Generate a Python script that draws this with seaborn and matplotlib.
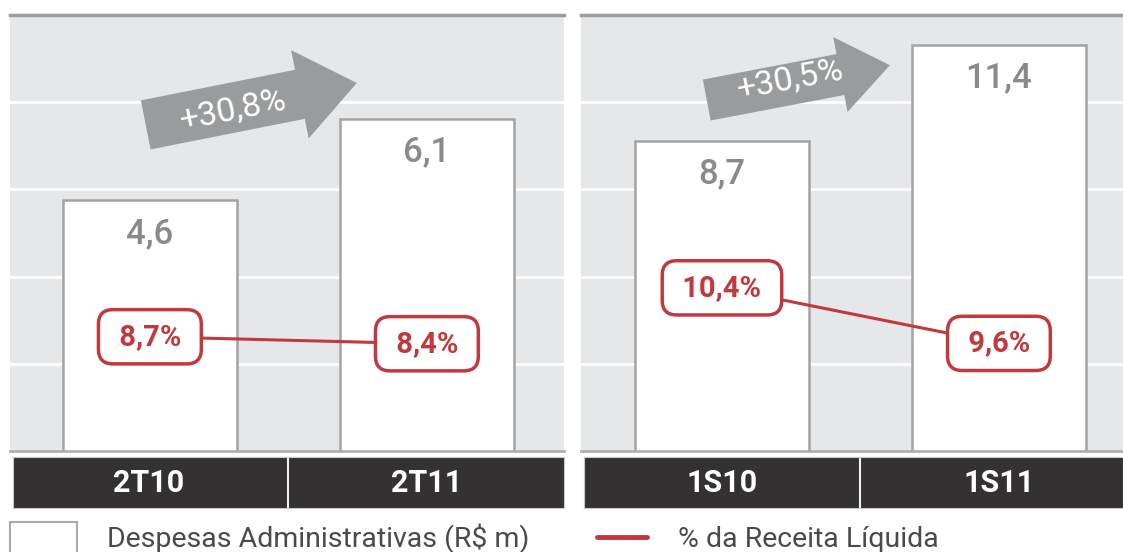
import numpy as np
import pandas as pd
import matplotlib
matplotlib.use('Agg')
import matplotlib.pyplot as plt
import seaborn as sns
from matplotlib.patches import Rectangle
from matplotlib.lines import Line2D

# values
quarters = ['2T10', '2T11']
quarter_expenses = [4.6, 6.1]      # Despesas Administrativas (R$ m)
quarter_pct = [8.7, 8.4]           # % da Receita Liquida
quarter_growth = '+30,8%'

semesters = ['1S10', '1S11']
semester_expenses = [8.7, 11.4]
semester_pct = [10.4, 9.6]
semester_growth = '+30,5%'

legend_bar = 'Despesas Administrativas (R$ m)'
legend_line = '% da Receita Líquida'

sns.set_theme(style='white')
plt.rcParams['font.family'] = ['Roboto', 'DejaVu Sans']

RED = '#c1393f'
BG = '#e6e7e8'
ARROW = '#9a9b9c'
BAND = '#333132'

W, H = 1123, 552
fig = plt.figure(figsize=(W / 100, H / 100), dpi=100)


def rect(x0, y0, x1, y1):
    # pixel box measured from the top-left -> figure fraction
    return [x0 / W, 1 - y1 / H, (x1 - x0) / W, (y1 - y0) / H]


def fmt(v):
    return f'{v:.1f}'.replace('.', ',')


def panel(ax_rect, band_rect, cats, vals, pct, ytop, pct_lim, xlim, band_xlim,
          growth, tail, tip, mscale, hw, hl, text_xy):
    ax = fig.add_axes(ax_rect)
    ax.set_facecolor(BG)
    df = pd.DataFrame({'cat': cats, 'val': vals})
    sns.barplot(data=df, x='cat', y='val', ax=ax, color='white', saturation=1,
                edgecolor='#a3a3a3', linewidth=1.8, width=0.63, zorder=3)
    ax.set_ylim(0, ytop)
    ax.set_yticks(np.linspace(0, ytop, 6))
    ax.grid(axis='y', color='white', lw=2)
    ax.set_axisbelow(True)
    ax.tick_params(labelleft=False, labelbottom=False, length=0)
    ax.set_xlabel('')
    ax.set_ylabel('')
    for s in ['left', 'right']:
        ax.spines[s].set_visible(False)
    ax.spines['top'].set(color='#9d9d9d', lw=2.5)
    ax.spines['bottom'].set(color='#b0b0b0', lw=2)

    for i, v in enumerate(vals):
        ax.annotate(fmt(v), (i, v), xytext=(0, -24), textcoords='offset points',
                    ha='center', va='center', fontsize=25, fontweight='medium',
                    color='#8a8a8a', zorder=4)

    # growth arrow
    ax.annotate('', xy=tip, xytext=tail, xycoords='axes fraction',
                arrowprops=dict(arrowstyle=f'simple,head_length={hl},head_width={hw},tail_width=1',
                                mutation_scale=mscale, fc=ARROW, ec='none',
                                shrinkA=0, shrinkB=0), zorder=4)
    wpx = ax_rect[2] * W
    hpx = ax_rect[3] * H
    ang = np.degrees(np.arctan2((tip[1] - tail[1]) * hpx, (tip[0] - tail[0]) * wpx))
    ax.text(text_xy[0], text_xy[1], growth, transform=ax.transAxes, rotation=ang,
            rotation_mode='anchor', ha='center', va='center', color='white',
            fontsize=24.5, zorder=5)

    # % of net revenue line
    ax2 = ax.twinx()
    xs = np.arange(len(cats))
    sns.lineplot(x=xs, y=pct, ax=ax2, color=RED, lw=2.2, zorder=3)
    for i, p in enumerate(pct):
        ax2.text(i, p, ' ' + fmt(p) + '% ', ha='center', va='center', fontsize=21,
                 fontweight='bold', color=RED, zorder=6,
                 bbox=dict(boxstyle='round,pad=0.45,rounding_size=0.5',
                           fc='white', ec=RED, lw=2.5))
    ax2.set_ylim(pct_lim)
    ax2.set_axis_off()
    ax.set_xlim(xlim)

    # category band
    bx = fig.add_axes(band_rect)
    bx.set_facecolor(BAND)
    bx.set_xlim(band_xlim)
    bx.set_ylim(0, 1)
    bx.set_xticks([])
    bx.set_yticks([])
    for s in bx.spines.values():
        s.set(color='#c8c8c8', lw=0.8)
    for i in range(len(cats) - 1):
        bx.axvline(i + 0.5, color='#f2f2f2', lw=1.5)
    for i, c in enumerate(cats):
        bx.text(i, 0.5, c, ha='center', va='center', color='white',
                fontsize=22, fontweight='bold')


panel(rect(10, 15, 564, 451), rect(13, 457, 564, 508), quarters, quarter_expenses,
      quarter_pct, 8.0, (3.8, 22.5), (-0.505, 1.495), (-0.49, 1.495),
      quarter_growth, (0.245, 0.748), (0.626, 0.844), 36, 1.8, 1.16, (0.403, 0.782))

panel(rect(581, 15, 1123, 451), rect(584, 457, 1123, 508), semesters, semester_expenses,
      semester_pct, 12.23, (8.05, 14.33), (-0.509, 1.448), (-0.498, 1.448),
      semester_growth, (0.232, 0.805), (0.570, 0.885), 30, 1.83, 1.21, (0.386, 0.851))

# legend
fig.add_artist(Rectangle((10 / W, 1 - 562 / H), 67 / W, 40 / H, transform=fig.transFigure,
                         fc='white', ec='#a8a8a8', lw=1.5))
fig.text(107 / W, 1 - 547 / H, legend_bar, fontsize=20.5, color='#4a4a4a', va='baseline')
fig.add_artist(Line2D([597 / W, 647 / W], [1 - 537 / H] * 2, transform=fig.transFigure,
                      color=RED, lw=3.5))
fig.text(678 / W, 1 - 547 / H, legend_line, fontsize=20.5, color='#4a4a4a', va='baseline')

fig.savefig('out.png', dpi=100)
